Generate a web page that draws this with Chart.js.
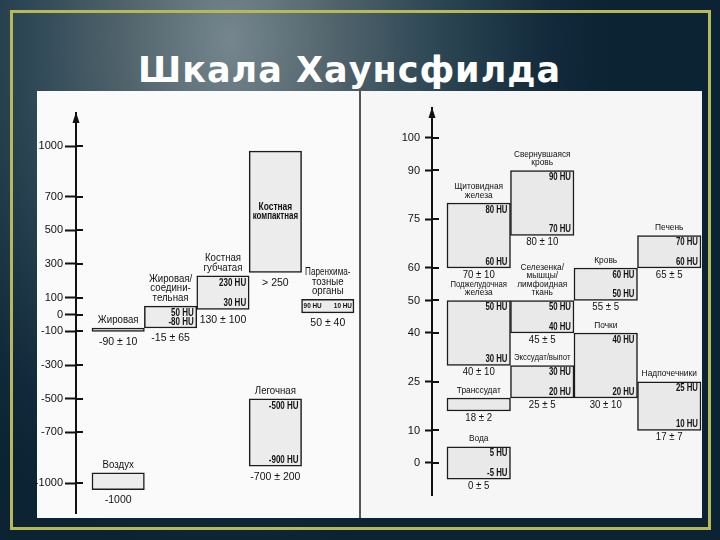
<!DOCTYPE html>
<html lang="ru">
<head>
<meta charset="utf-8">
<title>Шкала Хаунсфилда</title>
<script src="https://cdn.jsdelivr.net/npm/chart.js@4.4.1/dist/chart.umd.min.js"></script>
<style>
  html, body { margin: 0; padding: 0; }
  body {
    width: 720px; height: 540px; position: relative; overflow: hidden;
    background: radial-gradient(ellipse 380px 520px at 230px 40px, #75868e 0%, #55676f 25%, #2c4654 55%, #11293a 85%, #0b2333 100%);
  }
  #frame { position: absolute; left: 10px; top: 10px; width: 695px; height: 514px; border: 3px solid #b7b856; }
  #title {
    position: absolute; left: 138px; top: 53px; color: #fff; white-space: nowrap;
    font: bold 35px "DejaVu Sans", sans-serif; line-height: 35px; letter-spacing: 1px;
  }
  .panel { position: absolute; top: 91px; height: 427px; }
  #leftPanel { left: 37px; width: 323px; background: #fafafa; }
  #rightPanel { left: 361px; width: 341px; background: #f6f6f6; }
  #split { position: absolute; left: 359px; top: 91px; width: 2px; height: 427px; background: #555; }
  canvas { position: absolute; top: 91px; }
  #wideChart { left: 34px; }
  #softChart { left: 361px; }
</style>
</head>
<body>
<div id="frame"></div>
<div id="title">Шкала Хаунсфилда</div>
<div class="panel" id="leftPanel"></div>
<div class="panel" id="rightPanel"></div>
<canvas id="wideChart" width="326" height="427"></canvas>
<canvas id="softChart" width="341" height="427"></canvas>
<div id="split"></div>
<script>
// ============================
// Широкая шкала: жир, кость, воздух
// ============================
const wideTicks = [1000, 700, 500, 300, 100, 0, -100, -300, -500, -700, -1000];
const wideNames = ['Жировая', 'Жировая/\nсоедини-\nтельная', 'Костная\nгубчатая', 'Костная\nкомпактная',
  'Паренхима-\nтозные\nорганы', 'Воздух', 'Легочная'];
const wideColumn = [0, 1, 2, 3, 4, 0, 3];
const wideLow = [-100, -80, 30, 250, 10, -1040, -900];
const wideHigh = [-80, 50, 230, 970, 90, -940, -500];
const wideTopText = ['', '50 HU', '230 HU', '', '90 HU', '', '-500 HU'];
const wideBottomText = ['', '-80 HU', '30 HU', '', '10 HU', '', '-900 HU'];
const wideMean = ['-90 ± 10', '-15 ± 65', '130 ± 100', '> 250', '50 ± 40', '-1000', '-700 ± 200'];

// ============================
// Узкая шкала: мягкие ткани и жидкости
// ============================
const softTicks = [100, 90, 75, 60, 50, 40, 25, 10, 0];
const softNames = ['Щитовидная\nжелеза', 'Свернувшаяся\nкровь', 'Кровь', 'Печень',
  'Поджелудочная\nжелеза', 'Селезенка/\nмышцы/\nлимфоидная\nткань', 'Почки', 'Надпочечники',
  'Транссудат', 'Экссудат/выпот', 'Вода'];
const softColumn = [0, 1, 2, 3, 0, 1, 2, 3, 0, 1, 0];
const softLow = [60, 70, 50, 60, 30, 40, 20, 10, 16, 20, -5];
const softHigh = [80, 90, 60, 70, 50, 50, 40, 25, 20, 30, 5];
const softTopText = ['80 HU', '90 HU', '60 HU', '70 HU', '50 HU', '50 HU', '40 HU', '25 HU', '', '30 HU', '5 HU'];
const softBottomText = ['60 HU', '70 HU', '50 HU', '60 HU', '30 HU', '40 HU', '20 HU', '10 HU', '', '20 HU', '-5 HU'];
const softMean = ['70 ± 10', '80 ± 10', '55 ± 5', '65 ± 5', '40 ± 10', '45 ± 5', '30 ± 10', '17 ± 7', '18 ± 2', '25 ± 5', '0 ± 5'];

const FONT = '"Liberation Sans", Arial, sans-serif';

// текст со сжатием по горизонтали (скан с узким шрифтом), maxW - не шире колонки
function drawText(ctx, text, x, y, align, font, sx, maxW) {
    ctx.save();
    ctx.font = font;
    let k = sx;
    if (maxW) {
        const w = ctx.measureText(text).width * sx;
        if (w > maxW) k = sx * maxW / w;
    }
    ctx.translate(x, y);
    ctx.scale(k, 1);
    ctx.textAlign = align;
    ctx.fillText(text, 0, 0);
    ctx.restore();
}

// подписи блоков: название, границы в HU, среднее ± разброс
function makeBoxLabels(names, topText, bottomText, means, st) {
    return {
        id: 'boxLabels',
        afterDatasetsDraw(chart) {
            const ctx = chart.ctx;
            const meta = chart.getDatasetMeta(0);
            ctx.save();
            ctx.fillStyle = '#111';
            ctx.textBaseline = 'middle';
            meta.data.forEach((bar, i) => {
                const p = bar.getProps(['x', 'y', 'base', 'width'], true);
                const top = Math.min(p.y, p.base), bottom = Math.max(p.y, p.base);
                const left = p.x - p.width / 2, right = p.x + p.width / 2;
                const maxW = p.width - 7;
                const lines = names[i].split('\n');
                const hi = topText[i], lo = bottomText[i];

                if (!hi && !lo && bottom - top > 40) {
                    const mid = (top + bottom) / 2 - (lines.length - 1) * st.lineGap / 2;
                    lines.forEach((l, k) => drawText(ctx, l, p.x, mid + k * st.lineGap, 'center', st.insideFont, st.insideScale, maxW));
                } else {
                    lines.forEach((l, k) => drawText(ctx, l, p.x,
                        top - st.nameGap - (lines.length - 1 - k) * st.lineGap, 'center', st.nameFont, st.nameScale, maxW));
                }

                if (hi && lo && bottom - top < 18) {
                    drawText(ctx, hi, left + 2, (top + bottom) / 2, 'left', st.tinyFont, st.huScale);
                    drawText(ctx, lo, right - 2, (top + bottom) / 2, 'right', st.tinyFont, st.huScale);
                } else {
                    if (hi) drawText(ctx, hi, right - 3, top + 7, 'right', st.huFont, st.huScale);
                    if (lo) drawText(ctx, lo, right - 3, bottom - 6, 'right', st.huFont, st.huScale);
                }
                drawText(ctx, means[i], p.x, bottom + st.meanGap, 'center', st.meanFont, st.meanScale);
            });
            ctx.restore();
        }
    };
}

// стрелка оси и внутренняя часть засечек
function makeAxisArrow(inner) {
    return {
        id: 'axisArrow',
        afterDraw(chart) {
            const y = chart.scales.y, area = chart.chartArea, ctx = chart.ctx;
            const x0 = area.left;
            ctx.save();
            ctx.strokeStyle = '#111';
            ctx.fillStyle = '#111';
            ctx.lineWidth = 2;
            y.ticks.forEach(t => {
                const py = Math.round(y.getPixelForValue(t.value));
                ctx.beginPath();
                ctx.moveTo(x0, py);
                ctx.lineTo(x0 + inner, py);
                ctx.stroke();
            });
            ctx.beginPath();
            ctx.moveTo(x0, area.top - 1);
            ctx.lineTo(x0 - 3.5, area.top + 10);
            ctx.lineTo(x0 + 3.5, area.top + 10);
            ctx.closePath();
            ctx.fill();
            ctx.restore();
        }
    };
}

function makeChart(id, cfg) {
    const columns = [...new Set(cfg.column)].sort((a, b) => a - b);
    return new Chart(document.getElementById(id), {
        type: 'bar',
        data: {
            datasets: [{
                data: cfg.column.map((c, i) => ({ x: c, y: [cfg.low[i], cfg.high[i]] })),
                backgroundColor: cfg.fill,
                borderColor: '#1c1c1c',
                borderWidth: 1.5,
                borderSkipped: false,
                barPercentage: 1,
                categoryPercentage: 1
            }]
        },
        options: {
            responsive: false,
            animation: false,
            events: [],
            layout: { padding: cfg.padding },
            plugins: { legend: { display: false }, tooltip: { enabled: false } },
            scales: {
                x: {
                    type: 'linear', display: false, offset: false,
                    min: cfg.xMin, max: cfg.xMax,
                    afterBuildTicks: s => { s.ticks = columns.map(v => ({ value: v })); }
                },
                y: {
                    min: cfg.yMin, max: cfg.yMax,
                    afterBuildTicks: s => { s.ticks = cfg.ticks.map(v => ({ value: v })); },
                    afterFit: s => { s.width = cfg.axisWidth; s.paddingTop = 0; s.paddingBottom = 0; },
                    border: { display: true, color: '#111', width: 2 },
                    grid: { drawOnChartArea: false, drawTicks: true, tickLength: cfg.tickOut, tickWidth: 2, tickColor: '#111' },
                    ticks: {
                        autoSkip: false, color: '#111', padding: cfg.tickPad,
                        font: { family: FONT, size: cfg.tickSize },
                        callback: v => String(v)
                    }
                }
            }
        },
        plugins: [
            makeBoxLabels(cfg.names, cfg.topText, cfg.bottomText, cfg.means, cfg.text),
            makeAxisArrow(cfg.tickIn)
        ]
    });
}

makeChart('wideChart', {
    ticks: wideTicks, names: wideNames, column: wideColumn, low: wideLow, high: wideHigh,
    topText: wideTopText, bottomText: wideBottomText, means: wideMean,
    fill: '#ececec',
    padding: { top: 22, bottom: 5, left: 0, right: 0 },
    yMin: -1178, yMax: 1196, xMin: -0.805, xMax: 4.615,
    axisWidth: 42, tickOut: 11, tickIn: 7, tickPad: 2, tickSize: 11,
    text: {
        nameFont: '10.5px ' + FONT, nameScale: 0.92, nameGap: 8, lineGap: 9.5,
        insideFont: 'bold 10px ' + FONT, insideScale: 0.84,
        huFont: 'bold 10px ' + FONT, tinyFont: 'bold 8px ' + FONT, huScale: 0.8,
        meanFont: '10.5px ' + FONT, meanScale: 1, meanGap: 10.5
    }
});

makeChart('softChart', {
    ticks: softTicks, names: softNames, column: softColumn, low: softLow, high: softHigh,
    topText: softTopText, bottomText: softBottomText, means: softMean,
    fill: '#e9e9e9',
    padding: { top: 17, bottom: 23, left: 0, right: 0 },
    yMin: -9.85, yMax: 109.23, xMin: -0.736, xMax: 3.516,
    axisWidth: 71, tickOut: 7, tickIn: 7, tickPad: 5, tickSize: 11,
    text: {
        nameFont: '9.5px ' + FONT, nameScale: 0.88, nameGap: 8, lineGap: 8.5,
        insideFont: 'bold 9.5px ' + FONT, insideScale: 0.84,
        huFont: 'bold 10px ' + FONT, tinyFont: 'bold 8px ' + FONT, huScale: 0.78,
        meanFont: '10.5px ' + FONT, meanScale: 0.92, meanGap: 7
    }
});
</script>
</body>
</html>
